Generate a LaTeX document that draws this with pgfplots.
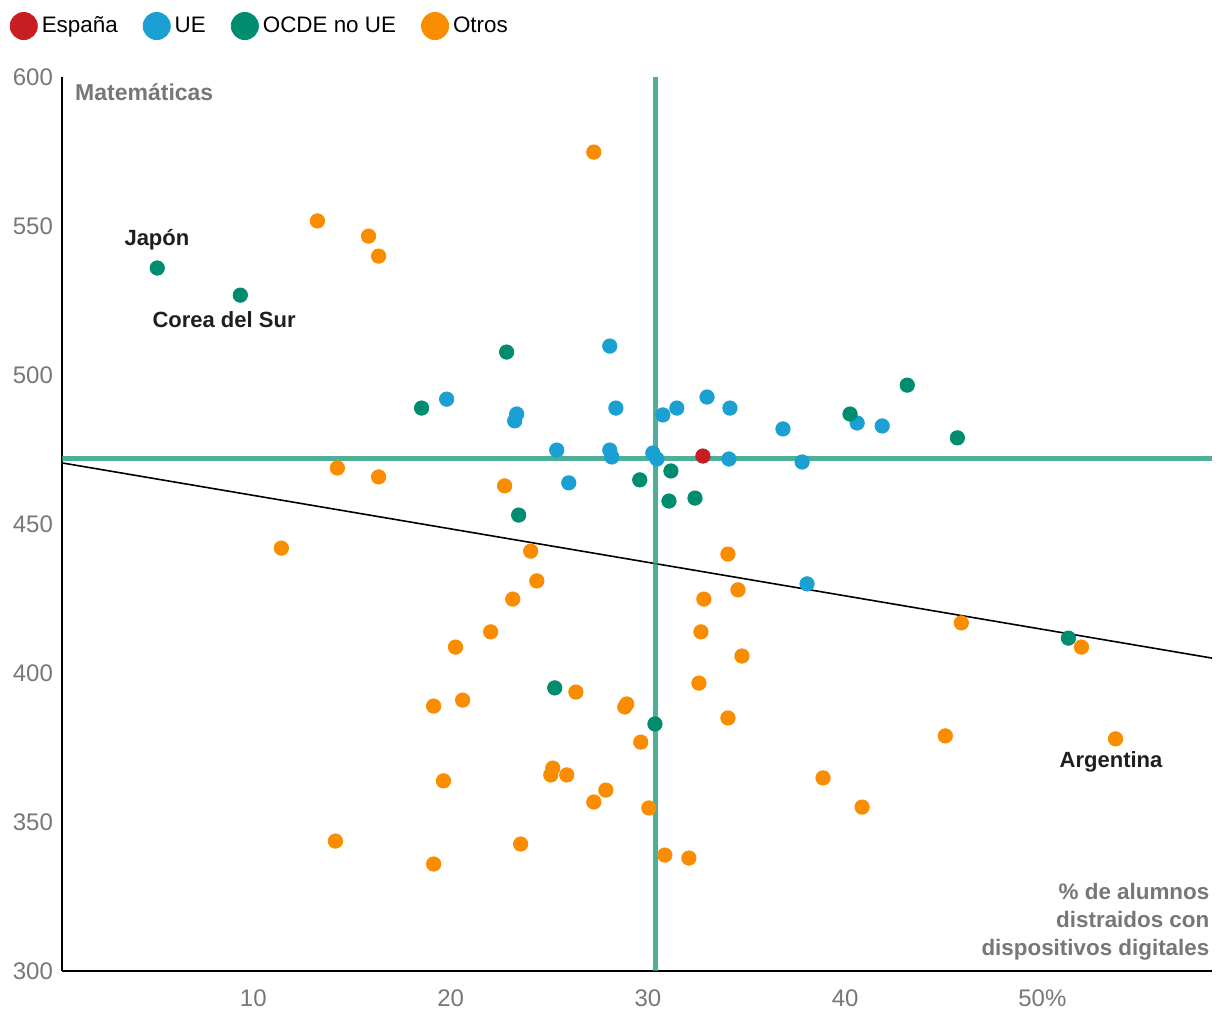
\documentclass[border=0pt]{standalone}
\usepackage{pgfplots}
\pgfplotsset{compat=1.18}
\usepackage{fontspec}
\setmainfont{Liberation Sans}
\definecolor{cES}{HTML}{C81E23}
\definecolor{cUE}{HTML}{1AA0D2}
\definecolor{cOC}{HTML}{008C6E}
\definecolor{cOT}{HTML}{FA8C00}
\definecolor{cLN}{RGB}{33,155,126}
\definecolor{tgray}{HTML}{777777}
\begin{document}
\begin{tikzpicture}
\begin{axis}[
  at={(0,0)}, anchor=south west,
  width=575pt, height=447pt, scale only axis,
  xmin=0.3, xmax=58.6, ymin=300, ymax=600,
  axis x line=bottom, axis y line=left,
  axis line style={line width=1pt, -},
  major tick length=0pt,
  xtick={10,20,30,40,50}, xticklabels={10,20,30,40,50\%},
  ytick={300,350,400,450,500,550,600},
  /pgf/number format/assume math mode=true,
  ticklabel style={font=\fontsize{12pt}{14pt}\selectfont, text=tgray},
  xticklabel style={yshift=-6pt},
  yticklabel style={xshift=-1pt},
  legend style={draw=none, at={(-0.051,1.057)}, anchor=west, legend columns=4,
     font=\fontsize{11.2pt}{13pt}\selectfont, fill=none,
     /tikz/every even column/.append style={column sep=10.5pt}},
  legend cell align=left,
]
\addlegendimage{legend image code/.code={\fill[cES] (0.22cm,0) circle (6.8pt);}}
\addlegendimage{legend image code/.code={\fill[cUE] (0.22cm,0) circle (6.8pt);}}
\addlegendimage{legend image code/.code={\fill[cOC] (0.22cm,0) circle (6.8pt);}}
\addlegendimage{legend image code/.code={\fill[cOT] (0.22cm,0) circle (6.8pt);}}
\legend{España,UE,OCDE no UE,Otros}
\addplot[only marks, mark=*, mark size=3.6pt, color=cOT, mark options={draw=cOT, fill=cOT}, forget plot] coordinates {
(27.26,574.8) (13.25,551.7) (15.84,546.6) (16.35,539.9) (14.26,468.8) (16.35,465.8)
(22.74,462.8) (11.42,441.9) (24.06,440.9) (34.06,439.9) (24.37,430.9) (34.57,427.9)
(23.15,424.8) (32.84,424.8) (22.03,413.8) (32.69,413.8) (45.89,416.8) (51.98,408.7)
(20.25,408.7) (34.77,405.7) (32.59,396.6) (26.35,393.6) (20.61,390.9) (19.14,388.9)
(28.93,389.6) (28.83,388.6) (34.06,384.9) (45.08,378.9) (53.71,377.9) (29.64,376.8)
(25.18,368.1) (25.08,365.8) (25.89,365.8) (27.87,360.7) (27.26,356.7) (30.05,354.7)
(14.16,343.6) (23.55,342.6) (19.14,335.9) (30.86,338.9) (32.08,337.9) (19.64,363.8)
(38.88,364.8) (40.86,355.0)
};
\addplot[only marks, mark=*, mark size=3.6pt, color=cUE, mark options={draw=cUE, fill=cUE}, forget plot] coordinates {
(28.07,509.7) (19.80,491.9) (23.35,486.9) (23.25,484.6) (28.38,488.9) (30.76,486.6)
(31.47,488.9) (33.00,492.6) (34.16,488.9) (36.85,481.9) (25.38,474.8) (28.07,474.8)
(28.17,472.5) (30.25,473.8) (30.46,471.8) (34.11,471.8) (37.82,470.8) (25.99,463.8)
(40.61,483.9) (41.88,482.9) (38.07,429.9)
};
\addplot[only marks, mark=*, mark size=3.6pt, color=cOC, mark options={draw=cOC, fill=cOC}, forget plot] coordinates {
(5.13,535.9) (9.34,526.8) (22.84,507.7) (18.53,488.9) (43.15,496.6) (40.25,486.9)
(45.69,478.9) (31.17,467.8) (29.59,464.8) (31.07,457.7) (32.39,458.7) (23.45,453.0)
(51.32,411.7) (25.28,395.0) (30.36,382.9)
};
\addplot[only marks, mark=*, mark size=3.6pt, color=cES, mark options={draw=cES, fill=cES}, forget plot] coordinates {
(32.79,472.8)
};
\addplot[no marks, sharp plot, black, line width=0.8pt, forget plot] coordinates {(0.3,470.5) (58.6,405.0)};
\addplot[no marks, sharp plot, cLN, opacity=0.8, line width=2.6pt, forget plot] coordinates {(30.4,300) (30.4,600)};
\addplot[no marks, sharp plot, cLN, opacity=0.8, line width=2.6pt, forget plot] coordinates {(0.3,472) (58.6,472)};
\node[anchor=west, font=\bfseries\fontsize{11.5pt}{13pt}\selectfont, text=tgray, inner sep=0] at (axis cs:0.95,595) {Matemáticas};
\node[anchor=west, font=\bfseries\fontsize{11pt}{13pt}\selectfont, text=black!88, inner sep=0] at (axis cs:3.45,545.3) {Japón};
\node[anchor=west, font=\bfseries\fontsize{11pt}{13pt}\selectfont, text=black!88, inner sep=0] at (axis cs:4.87,518.5) {Corea del Sur};
\node[anchor=west, font=\bfseries\fontsize{11pt}{13pt}\selectfont, text=black!88, inner sep=0] at (axis cs:50.86,370.1) {Argentina};
\node[anchor=south east, align=right, font=\bfseries\fontsize{11.2pt}{14pt}\selectfont, text=tgray, inner sep=0] at (rel axis cs:0.998,0.012) {\% de alumnos\\distraidos con\\dispositivos digitales};
\end{axis}
\pgfresetboundingbox
\useasboundingbox (-31pt,-25.5pt) rectangle (579pt,485.5pt);
\end{tikzpicture}
\end{document}
